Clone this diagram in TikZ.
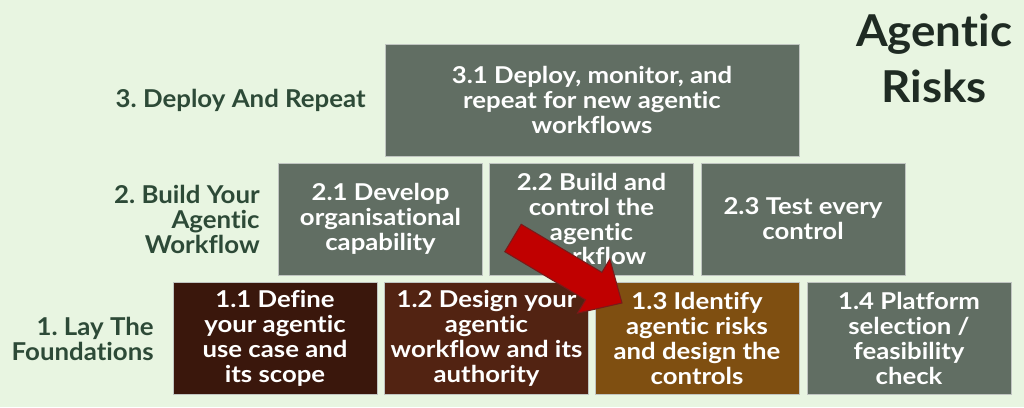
\documentclass[tikz,border=0pt]{standalone}
\usepackage{fontspec}
\setmainfont{Lato}[Ligatures=NoCommon]
\newfontfamily\boxfont{Lato}[Ligatures=NoCommon, FakeStretch=1.11]
\newfontfamily\stagefont{Lato}[Ligatures=NoCommon, FakeStretch=1.05]
\newfontfamily\titlefont{Lato}[Ligatures=NoCommon, FakeStretch=1.04]
\usetikzlibrary{positioning}
\definecolor{bgcol}{HTML}{E8F5E1}
\definecolor{stonecol}{HTML}{616E63}
\definecolor{darkbrown}{HTML}{3A170C}
\definecolor{midbrown}{HTML}{522312}
\definecolor{ochre}{HTML}{7F4F11}
\definecolor{labelcol}{HTML}{2D4A37}
\definecolor{titlecol}{HTML}{1F2B23}
\definecolor{arrowred}{HTML}{C00000}
\definecolor{arrowedge}{HTML}{7A1A1A}
\frenchspacing

\begin{document}
\begin{tikzpicture}[x=0.02cm, y=-0.02cm,
	box/.style={draw=white!60!stonecol, line width=0.3pt, fill=stonecol, text=white,
		minimum width=4.08cm, minimum height=2.24cm, align=center, inner sep=0pt,
		font=\boxfont\bfseries\fontsize{13.2}{14.2}\selectfont},
	widebox/.style={box, minimum width=8.28cm},
	stage/.style={text=labelcol, align=right, anchor=east, inner sep=0pt,
		font=\stagefont\bfseries\fontsize{14}{14.2}\selectfont}]
			%%%%% START %%%%%
			
			\fill[bgcol] (0, 0) rectangle (1024, 407);
			\useasboundingbox (0, 0) rectangle (1024, 407);
			
			\node[titlecol, align=center, font=\titlefont\bfseries\fontsize{25}{32}\selectfont] (title) at (934, 58) {Agentic\\Risks};
			
			\node[widebox] (b31) at (592, 100) {3.1 Deploy, monitor, and\\repeat for new agentic\\workflows};
			
			\node[box] (b21) at (380.5, 219) {2.1 Develop\\organisational\\capability};
			\node[box] (b22) at (591.5, 219) {2.2 Build and\\control the\\agentic\\workflow};
			\node[box] (b23) at (803, 219) {2.3 Test every\\control};
			
			\node[box, fill=darkbrown] (b11) at (275, 338.5) {1.1 Define\\your agentic\\use case and\\its scope};
			\node[box, fill=midbrown] (b12) at (486.5, 338.5) {1.2 Design your\\agentic\\workflow and its\\authority};
			\node[box, fill=ochre] (b13) at (697, 338.5) {1.3 Identify\\agentic risks\\and design the\\controls};
			\node[box] (b14) at (909, 338.5) {1.4 Platform\\selection /\\feasibility\\check};
			
			\node[stage] (s3) at (366, 100) {3. Deploy And Repeat};
			\node[stage] (s2) at (260, 219) {2. Build Your\\Agentic\\Workflow};
			\node[stage] (s1) at (154, 338.5) {1. Lay The\\Foundations};
			
			\draw[fill=arrowred, draw=arrowedge, line width=0.6pt, line join=miter]
				(521.2, 224.3) -- (601.9, 272.4) -- (609.8, 259.1) -- (622, 303)
				-- (577.6, 313.1) -- (585.5, 299.8) -- (504.8, 251.7) -- cycle;
			
			%%%%% END %%%%%
		\end{tikzpicture}
\end{document}
